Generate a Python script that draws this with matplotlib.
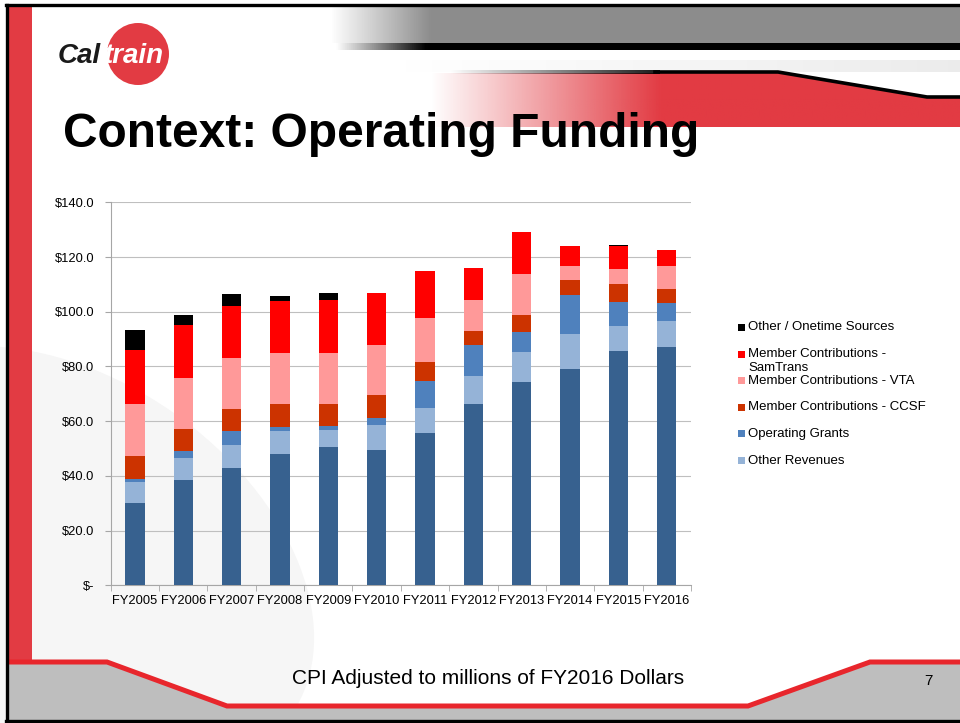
import numpy as np
import matplotlib
matplotlib.use("Agg")
import matplotlib.pyplot as plt
from matplotlib.patches import Polygon, Rectangle, Circle, Ellipse

plt.rcParams['font.family'] = ['Liberation Sans', 'DejaVu Sans']

# data (millions of FY2016 dollars)
years = ["FY2005", "FY2006", "FY2007", "FY2008", "FY2009", "FY2010",
         "FY2011", "FY2012", "FY2013", "FY2014", "FY2015", "FY2016"]
farebox = [30.2, 38.5, 43.0, 47.9, 50.7, 49.6, 55.8, 66.4, 74.4, 79.1, 85.5, 87.0]
other_revenues = [7.7, 8.2, 8.2, 8.6, 6.2, 9.0, 9.1, 10.1, 10.8, 12.8, 9.3, 9.6]
operating_grants = [1.0, 2.3, 5.2, 1.5, 1.3, 2.7, 9.8, 11.5, 7.5, 14.1, 8.9, 6.5]
member_ccsf = [8.4, 8.3, 8.1, 8.4, 8.2, 8.2, 6.9, 5.0, 6.2, 5.6, 6.6, 5.1]
member_vta = [18.9, 18.4, 18.5, 18.4, 18.4, 18.2, 16.2, 11.2, 14.8, 5.0, 5.3, 8.4]
member_samtrans = [19.7, 19.5, 19.2, 19.3, 19.6, 19.2, 17.0, 11.9, 15.3, 7.4, 8.3, 6.0]
other_onetime = [7.4, 3.7, 4.4, 1.5, 2.3, 0.0, 0.0, 0.0, 0.0, 0.0, 0.4, 0.0]

series = [
    (farebox, "#37618F", None),
    (other_revenues, "#95B3D7", "Other Revenues"),
    (operating_grants, "#4F81BD", "Operating Grants"),
    (member_ccsf, "#CC3300", "Member Contributions - CCSF"),
    (member_vta, "#FF9999", "Member Contributions - VTA"),
    (member_samtrans, "#FF0000", "Member Contributions -\nSamTrans"),
    (other_onetime, "#000000", "Other / Onetime Sources"),
]

W, H = 960, 723
fig = plt.figure(figsize=(W / 100, H / 100), dpi=100)
fig.patch.set_facecolor("white")

# slide background drawn in pixel coordinates
bg = fig.add_axes([0, 0, 1, 1], zorder=0)
bg.set_xlim(0, W)
bg.set_ylim(H, 0)
bg.axis("off")

red = "#E23B43"

# faint train shape
bg.add_patch(Ellipse((70, 560), 540, 360, angle=35, color="#F6F6F6", lw=0))

# top gray banner with fade on the left
xs = np.linspace(330, 960, 300)
img = np.zeros((1, len(xs), 4))
img[..., :3] = 0.55
img[0, :, 3] = np.clip((xs - 330) / 100, 0, 1)
bg.imshow(img, extent=(330, 960, 43, 7), aspect="auto", zorder=1)
img2 = np.zeros((1, len(xs), 4))
img2[0, :, 3] = np.clip((xs - 335) / 90, 0, 1)
bg.imshow(img2, extent=(330, 960, 50, 43), aspect="auto", zorder=1)

# light shadow under the banner
simg = np.zeros((1, 200, 4))
simg[..., :3] = 0.85
simg[0, :, 3] = np.linspace(0, 0.5, 200)
bg.imshow(simg, extent=(400, 960, 72, 60), aspect="auto", zorder=1)

# red band with fade
rx = np.linspace(430, 960, 300)
rimg = np.zeros((1, len(rx), 4))
rimg[..., 0], rimg[..., 1], rimg[..., 2] = 0xE2 / 255, 0x3B / 255, 0x43 / 255
rimg[0, :, 3] = np.clip((rx - 430) / 230, 0, 1)
band = Polygon([(430, 73), (778, 73), (927, 98), (960, 98), (960, 127), (430, 127)],
               closed=True, facecolor="none", edgecolor="none", transform=bg.transData)
bg.add_patch(band)
im = bg.imshow(rimg, extent=(430, 960, 127, 72), aspect="auto", zorder=1)
im.set_clip_path(band)
gimg = np.zeros((1, 200, 4))
gimg[0, :, 3] = np.linspace(0, 0.9, 200)
bg.imshow(gimg, extent=(450, 660, 74, 70), aspect="auto", zorder=2)
bg.plot([655, 778, 927, 960], [72, 72, 97, 97], color="black", lw=2.6, zorder=2,
        solid_joinstyle="miter")

# left red bar
bg.add_patch(Rectangle((9, 6), 23, 656, color=red, lw=0, zorder=1))

# bottom footer shape
foot_x = [9, 107, 227, 748, 870, 960]
foot_y = [662, 662, 706, 706, 662, 662]
bg.add_patch(Polygon(list(zip(foot_x, foot_y)) + [(960, 721), (9, 721)], closed=True,
                     facecolor="#BEBEBE", edgecolor="none", zorder=1))
bg.plot(foot_x, foot_y, color="#E8262C", lw=3.6, zorder=2, solid_joinstyle="miter")

# black frame
bg.plot([6, 960], [5, 5], color="black", lw=2.4, zorder=3)
bg.plot([7, 7], [5, 721], color="black", lw=2.4, zorder=3)
bg.plot([6, 960], [720.5, 720.5], color="black", lw=2.4, zorder=3)

# logo
bg.add_patch(Circle((138, 54), 31, color=red, lw=0, zorder=2))
bg.text(58, 63, "Cal", fontsize=20, fontweight="bold", style="italic",
        color="#1A1A1A", va="baseline", ha="left", zorder=3)
bg.text(104, 63, "train", fontsize=20, fontweight="bold", style="italic",
        color="white", va="baseline", ha="left", zorder=3)

# title and footer text
bg.text(63, 147, "Context: Operating Funding", fontsize=34.5, fontweight="bold",
        va="baseline", ha="left", zorder=3)
bg.text(488, 678, "CPI Adjusted to millions of FY2016 Dollars", fontsize=15,
        va="center", ha="center", zorder=3)
bg.text(928, 681, "7", fontsize=11, va="center", ha="center", zorder=3)

# chart
ax = fig.add_axes([110.7 / W, 1 - 585.3 / H, 580.3 / W, 383 / H], zorder=2)
ax.patch.set_alpha(0)
x = np.arange(len(years))
bottom = np.zeros(len(years))
for vals, col, lab in series:
    ax.bar(x, vals, width=0.4, bottom=bottom, color=col, zorder=3)
    bottom += np.array(vals)

ax.set_xlim(-0.5, len(years) - 0.5)
ax.set_ylim(0, 140)
ax.set_yticks(np.arange(0, 141, 20))
ax.set_yticklabels(["$-"] + ["${:.1f}".format(v) for v in np.arange(20, 141, 20)])
ax.set_xticks(x)
ax.set_xticklabels(years)
ax.set_xticks(np.arange(-0.5, len(years), 1), minor=True)
ax.tick_params(axis="x", which="major", length=0, pad=7, labelsize=9.3)
ax.tick_params(axis="x", which="minor", length=4, color="#A6A6A6", direction="out")
ax.tick_params(axis="y", length=4, color="#A6A6A6", direction="out", pad=8, labelsize=9.3)
ax.grid(axis="y", color="#BFBFBF", lw=0.8, zorder=0)
for s in ["top", "right"]:
    ax.spines[s].set_visible(False)
for s in ["left", "bottom"]:
    ax.spines[s].set_color("#A6A6A6")
    ax.spines[s].set_linewidth(0.8)

# legend drawn beside the chart
leg_y = 328
for vals, col, lab in series[::-1]:
    if lab is None:
        continue
    bg.add_patch(Rectangle((738, leg_y - 4), 7, 7, color=col, lw=0, zorder=3))
    bg.text(748, leg_y - 6.5, lab, fontsize=9.5, va="top", ha="left",
            linespacing=1.2, zorder=3)
    leg_y += 26.6

fig.savefig("out.png", dpi=100)
